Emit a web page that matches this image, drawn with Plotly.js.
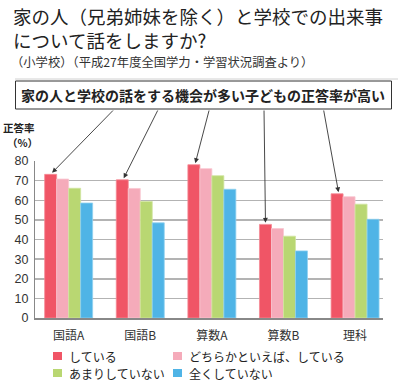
<!DOCTYPE html>
<html><head><meta charset="utf-8">
<script src="https://cdn.plot.ly/plotly-3.0.1.min.js"></script>
<style>html,body{margin:0;padding:0;background:#fff}#chart{width:400px;height:392px}</style>
</head><body><div id="chart"></div>
<script>
// ---- data ----
const categories = ["国語A", "国語B", "算数A", "算数B", "理科"];
const seriesNames = ["している", "どちらかといえば、している", "あまりしていない", "全くしていない"];
const valuesDoing = [73.2, 70.4, 78.1, 47.7, 63.3];
const valuesRather = [70.8, 66.0, 76.1, 45.6, 61.8];
const valuesNotMuch = [66.1, 59.4, 72.5, 41.7, 58.0];
const valuesNotAtAll = [58.6, 48.5, 65.6, 34.2, 50.3];
const yTicks = [0, 10, 20, 30, 40, 50, 60, 70, 80];
const titleLine1 = "家の人（兄弟姉妹を除く）と学校での出来事";
const titleLine2 = "について話をしますか?";
const subtitle = "（小学校）（平成27年度全国学力・学習状況調査より）";
const calloutText = "家の人と学校の話をする機会が多い子どもの正答率が高い";
const yTitle1 = "正答率";
const yTitle2 = "（%）";

// ---- styling / layout ----
const colors = ["#f05566", "#f5abba", "#b9d772", "#4fb4e6"];
const lineColors = ["#f58a95", "#f9c6d0", "#d0e59f", "#8fd0f0"];
const W = 400, H = 392;
const M = {l: 35, r: 17, t: 161, b: 74};
const xRange = [-0.47, 4.39];
const yRange = [0, 80];
const plotW = W - M.l - M.r, plotH = H - M.t - M.b;
const cjk = "'Noto Sans CJK JP', 'Noto Sans', sans-serif";
const num = "'Liberation Sans', Arial, sans-serif";

function pxX(px) { return (px - M.l) / plotW; }
function pxY(py) { return (H - M.b - py) / plotH; }
function dataToPx(xv, yv) {
  return [M.l + (xv - xRange[0]) / (xRange[1] - xRange[0]) * plotW,
          H - M.b - (yv - yRange[0]) / (yRange[1] - yRange[0]) * plotH];
}

const allValues = [valuesDoing, valuesRather, valuesNotMuch, valuesNotAtAll];
const traces = allValues.map((vals, i) => ({
  type: "bar", name: seriesNames[i], x: categories, y: vals,
  marker: {color: colors[i], line: {color: lineColors[i], width: 0.8}},
  hoverinfo: "x+y+name"
}));

const bargap = 0.33;
const barW = (1 - bargap) / 4;
const annotations = [];
const shapes = [];

// titles
annotations.push({xref: "paper", yref: "paper", x: pxX(11), y: pxY(28), xanchor: "left", yanchor: "middle",
  align: "left", text: titleLine1 + "<br>" + titleLine2, showarrow: false,
  font: {family: cjk, size: 18.5, color: "#222"}});
annotations.push({xref: "paper", yref: "paper", x: pxX(9), y: pxY(62), xanchor: "left", yanchor: "middle",
  text: subtitle, showarrow: false, font: {family: cjk, size: 12.3, color: "#333"}});

// separator line
shapes.push({type: "line", xref: "paper", yref: "paper", x0: pxX(15), x1: pxX(398), y0: pxY(79), y1: pxY(79),
  line: {color: "#d0d0d0", width: 1}});
// callout box
shapes.push({type: "rect", xref: "paper", yref: "paper", x0: pxX(15.5), x1: pxX(391.5), y0: pxY(81), y1: pxY(109),
  line: {color: "#333", width: 1}, fillcolor: "#fff"});
annotations.push({xref: "paper", yref: "paper", x: pxX(203), y: pxY(95), xanchor: "center", yanchor: "middle",
  text: "<b>" + calloutText + "</b>", showarrow: false, font: {family: cjk, size: 14, color: "#222"}});

// arrows from the box to the first bar of each group
const tailPx = [113, 157, 208, 264, 322];
categories.forEach((c, i) => {
  const xv = i - 1.5 * barW;
  const yv = valuesDoing[i] + 0.8;
  const tip = dataToPx(xv, yv);
  annotations.push({xref: "x", yref: "y", x: xv + (i === 3 ? 0 : 0.02), y: yv, text: "", showarrow: true,
    axref: "pixel", ayref: "pixel", ax: tailPx[i] - tip[0], ay: 109 - tip[1],
    arrowhead: 2, arrowsize: 1.1, arrowwidth: 0.9, arrowcolor: "#333", standoff: 0});
});

// y-axis title
annotations.push({xref: "paper", yref: "paper", x: pxX(18.5), y: pxY(127), xanchor: "center", yanchor: "middle",
  text: "<b>" + yTitle1 + "</b>", showarrow: false, font: {family: cjk, size: 10.5, color: "#222"}});
annotations.push({xref: "paper", yref: "paper", x: pxX(22), y: pxY(142), xanchor: "center", yanchor: "middle",
  text: "<b>" + yTitle2 + "</b>", showarrow: false, font: {family: cjk, size: 10.5, color: "#222"}});

// legend (custom, built from seriesNames / colors)
const legPos = [[53, 356], [173, 356], [53, 373], [173, 373]];
seriesNames.forEach((n, i) => {
  const [lx, ly] = legPos[i];
  shapes.push({type: "rect", xref: "paper", yref: "paper", x0: pxX(lx), x1: pxX(lx + 9), y0: pxY(ly - 4), y1: pxY(ly + 4),
    line: {width: 0}, fillcolor: colors[i]});
  annotations.push({xref: "paper", yref: "paper", x: pxX(lx + 14), y: pxY(ly), xanchor: "left", yanchor: "middle",
    text: n, showarrow: false, font: {family: cjk, size: 12, color: "#222"}});
});

const layout = {
  width: W, height: H, margin: M, showlegend: false,
  paper_bgcolor: "#fff", plot_bgcolor: "#fff",
  barmode: "group", bargap: bargap, bargroupgap: 0,
  xaxis: {type: "category", range: xRange, showgrid: false, zeroline: false,
    showline: true, linecolor: "#888", linewidth: 1.5, ticks: "",
    tickfont: {family: cjk, size: 12, color: "#333"}, ticklabelstandoff: 6},
  yaxis: {range: yRange, tickvals: yTicks, showgrid: true, gridcolor: "#b3b3b3", gridwidth: 1.5,
    zeroline: false, showline: true, linecolor: "#888", linewidth: 1, ticks: "",
    tickfont: {family: num, size: 12.5, color: "#333"}, ticklabelstandoff: 3},
  annotations: annotations, shapes: shapes
};

Plotly.newPlot("chart", traces, layout, {staticPlot: true, displayModeBar: false});
</script></body></html>
